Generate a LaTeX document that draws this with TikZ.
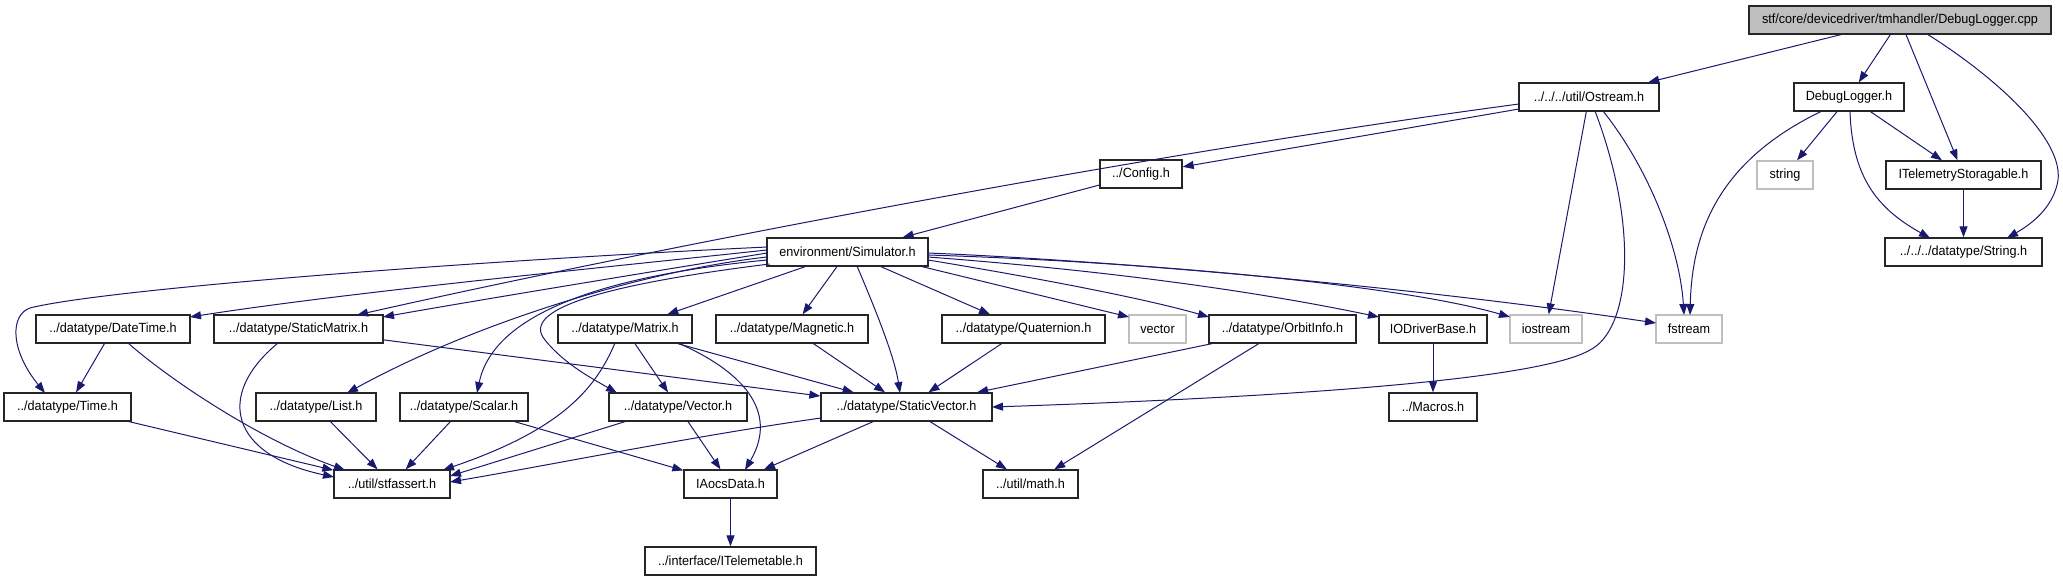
\documentclass[tikz,border=0pt]{standalone}
\usepackage{fontspec}
\setmainfont[FakeStretch=0.95]{Liberation Sans}
\usetikzlibrary{arrows.meta,calc}
\definecolor{edgeblue}{HTML}{191970}
\definecolor{lightgreyb}{HTML}{BFBFBF}
\begin{document}
\begin{tikzpicture}[x=1pt,y=-1pt,
  nbox/.style={draw=black!85, line width=1.3pt, fill=white, minimum height=28pt, inner sep=0pt, font=\fontsize{13.3}{15}\selectfont},
  gbox/.style={nbox, draw=lightgreyb},
  rootbox/.style={nbox, fill=lightgreyb},
  e/.style={draw=edgeblue, line width=1pt, -{Triangle[length=11pt,width=8pt]}, fill=none}
]
\useasboundingbox (0,0) rectangle (2063,581);
% nodes
\node[rootbox, minimum width=302pt] (cpp) at (1900,20) {stf/core/devicedriver/tmhandler/DebugLogger.cpp};
\node[nbox, minimum width=140pt] (ost) at (1589,97) {../../../util/Ostream.h};
\node[nbox, minimum width=110pt] (dlh) at (1849,97) {DebugLogger.h};
\node[gbox, minimum width=56pt] (str) at (1785,175) {string};
\node[nbox, minimum width=155pt] (its) at (1963.5,175) {ITelemetryStoragable.h};
\node[nbox, minimum width=157pt] (sth) at (1963.5,252) {../../../datatype/String.h};
\node[nbox, minimum width=82pt] (cfg) at (1141,174) {../Config.h};
\node[nbox, minimum width=161pt] (sim) at (847.5,252) {environment/Simulator.h};
\node[nbox, minimum width=154pt] (dt) at (113,329) {../datatype/DateTime.h};
\node[nbox, minimum width=169pt] (smx) at (298.5,329) {../datatype/StaticMatrix.h};
\node[nbox, minimum width=134pt] (mtx) at (625,329) {../datatype/Matrix.h};
\node[nbox, minimum width=152pt] (mag) at (792,329) {../datatype/Magnetic.h};
\node[nbox, minimum width=163pt] (qua) at (1023.5,329) {../datatype/Quaternion.h};
\node[gbox, minimum width=57pt] (vec) at (1157.5,329) {vector};
\node[nbox, minimum width=147pt] (orb) at (1282.5,329) {../datatype/OrbitInfo.h};
\node[nbox, minimum width=108pt] (iod) at (1433,329) {IODriverBase.h};
\node[gbox, minimum width=72pt] (ios) at (1546,329) {iostream};
\node[gbox, minimum width=66pt] (fst) at (1689,329) {fstream};
\node[nbox, minimum width=127pt] (tim) at (67.5,407) {../datatype/Time.h};
\node[nbox, minimum width=120pt] (lst) at (316,407) {../datatype/List.h};
\node[nbox, minimum width=128pt] (scl) at (464,407) {../datatype/Scalar.h};
\node[nbox, minimum width=138pt] (vct) at (678,407) {../datatype/Vector.h};
\node[nbox, minimum width=171pt] (svc) at (906.5,407) {../datatype/StaticVector.h};
\node[nbox, minimum width=88pt] (mac) at (1433,407) {../Macros.h};
\node[nbox, minimum width=116pt] (sfa) at (392,484) {../util/stfassert.h};
\node[nbox, minimum width=93pt] (iao) at (730.5,484) {IAocsData.h};
\node[nbox, minimum width=95pt] (mth) at (1030.5,484) {../util/math.h};
\node[nbox, minimum width=171pt] (itm) at (730.5,561) {../interface/ITelemetable.h};

% straight edges
\draw[e] (cpp) -- (ost);
\draw[e] (cpp) -- (dlh);
\draw[e] (cpp) -- (its);
\draw[e] (dlh) -- (str);
\draw[e] (dlh) -- (its);
\draw[e] (its) -- (sth);
\draw[e] (ost) -- (cfg);
\draw[e] (ost) -- (ios);
\draw[e] (cfg) -- (sim);
\draw[e] (sim) -- (mtx);
\draw[e] (sim) -- (mag);
\draw[e] (sim) -- (qua);
\draw[e] ($(sim.center)+(72,14)$) -- ($(vec.center)+(-28.5,-12)$);
\draw[e] (dt) -- (tim);
\draw[e] (smx) -- (svc);
\draw[e] (mtx) -- (vct);
\draw[e] (mtx) -- (svc);
\draw[e] (mag) -- (svc);
\draw[e] (qua) -- (svc);
\draw[e] (orb) -- (svc);
\draw[e] (orb) -- (mth);
\draw[e] (iod) -- (mac);
\draw[e] (tim) -- (sfa);
\draw[e] (lst) -- (sfa);
\draw[e] (scl) -- (sfa);
\draw[e] (scl) -- (iao);
\draw[e] ($(vct.center)+(-51,14)$) -- ($(sfa.center)+(58,-8)$);
\draw[e] (vct) -- (iao);
\draw[e] (svc) -- (iao);
\draw[e] (svc) -- (mth);
\draw[e] (iao) -- (itm);

% curved edges
\draw[e] ($(cpp.center)+(27,14)$) .. controls (2000,80) and (2063,140) .. (2058,180)
  .. controls (2054,205) and (2035,222) .. ($(sth.center)+(43.5,-14)$);
\draw[e] ($(dlh.center)+(1,14)$) .. controls (1852,180) and (1880,210) .. ($(sth.center)+(-33.5,-14)$);
\draw[e] ($(dlh.center)+(-27,14)$) .. controls (1720,160) and (1692,230) .. ($(fst.center)+(1,-14)$);
\draw[e] ($(ost.center)+(14,14)$) .. controls (1650,170) and (1680,250) .. ($(fst.center)+(-5,-14)$);
\draw[e] ($(ost.center)+(6,14)$) .. controls (1640,230) and (1630,330) .. (1590,350)
  .. controls (1530,385) and (1200,400) .. ($(svc.center)+(85.5,0)$);
\draw[e] ($(ost.center)+(-70,7)$) .. controls (1100,160) and (600,260) .. ($(smx.center)+(58.5,-14)$);
\draw[e] ($(sim.center)+(9.5,14)$) .. controls (880,320) and (895,360) .. ($(svc.center)+(-6.5,-14)$);
% simulator to the right
\draw[e] ($(sim.center)+(80.5,1)$) .. controls (1100,260) and (1400,285) .. ($(fst.center)+(-33,-6)$);
\draw[e] ($(sim.center)+(80.5,3)$) .. controls (1150,262) and (1400,285) .. ($(ios.center)+(-36,-12)$);
\draw[e] ($(sim.center)+(80.5,5)$) .. controls (1100,270) and (1250,290) .. ($(iod.center)+(-54,-12)$);
\draw[e] ($(sim.center)+(80.5,8)$) .. controls (1050,280) and (1150,300) .. ($(orb.center)+(-73.5,-12)$);
% simulator to the left
\draw[e] ($(sim.center)+(-80.5,-5)$) .. controls (450,262) and (100,290) .. (30,308)
  .. controls (10,315) and (10,350) .. ($(tim.center)+(-22.5,-14)$);
\draw[e] ($(sim.center)+(-80.5,-2)$) .. controls (600,268) and (350,292) .. ($(dt.center)+(77,-12)$);
\draw[e] ($(sim.center)+(-80.5,1)$) .. controls (600,280) and (450,305) .. ($(smx.center)+(84.5,-12)$);
\draw[e] ($(sim.center)+(-80.5,5)$) .. controls (650,270) and (480,320) .. ($(lst.center)+(31,-14)$);
\draw[e] ($(sim.center)+(-80.5,8)$) .. controls (560,280) and (490,330) .. ($(scl.center)+(13,-14)$);
\draw[e] ($(sim.center)+(-78,12)$) .. controls (600,285) and (520,310) .. (545,340)
  .. controls (565,365) and (595,380) .. ($(vct.center)+(-61,-14)$);
% into stfassert and IAocsData
\draw[e] ($(dt.center)+(15,14)$) .. controls (170,380) and (260,440) .. ($(sfa.center)+(-47,-14)$);
\draw[e] ($(smx.center)+(-20.5,14)$) .. controls (215,395) and (230,455) .. ($(sfa.center)+(-58,-7)$);
\draw[e] ($(mtx.center)+(-10,14)$) .. controls (595,390) and (560,430) .. ($(sfa.center)+(51,-14)$);
\draw[e] ($(svc.center)+(-85.5,11)$) .. controls (700,435) and (550,465) .. ($(sfa.center)+(58,-2)$);
\draw[e] ($(mtx.center)+(53,14)$) .. controls (740,370) and (780,410) .. ($(iao.center)+(14.5,-14)$);
\end{tikzpicture}
\end{document}
